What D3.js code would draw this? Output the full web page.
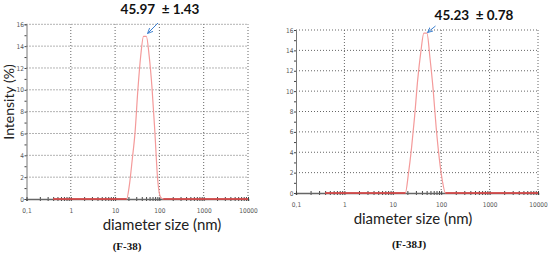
<!DOCTYPE html>
<html><head><meta charset="utf-8">
<script src="https://cdn.jsdelivr.net/npm/d3@7/dist/d3.min.js"></script>
<style>
html,body{margin:0;padding:0;background:#fff;}
svg{display:block;}
</style></head>
<body>
<svg id="chart" width="550" height="253"></svg>
<script>
// ---- data ----
const sizeBins = [0.4, 1, 10, 15.69, 18.17, 21.04, 24.36, 28.21, 32.67, 37.84, 43.82, 50.75, 58.77, 68.06, 78.82, 91.28, 105.7, 122.4, 141.8, 1000, 10000];
const intensityF38  = [0, 0, 0, 0, 0, 1.3, 3.6, 6.1, 10.0, 13.1, 14.9, 14.9, 13.1, 10.2, 6.2, 1.8, 0.2, 0, 0, 0, 0];
const intensityF38J = [0, 0, 0, 0, 0, 1.9, 4.4, 7.5, 11.1, 13.8, 15.7, 15.7, 13.2, 10.2, 6.4, 3.4, 1.2, 0, 0, 0, 0];
const xTickValues = [0.1, 1, 10, 100, 1000, 10000];
const xTickLabels = ["0,1", "1", "10", "100", "1000", "10000"];
const yTickValues = [0, 2, 4, 6, 8, 10, 12, 14, 16];
const titles = ["45.97  \u00b1 1.43", "45.23  \u00b1 0.78"];
const captions = ["(F-38)", "(F-38J)"];
const xAxisTitle = "diameter size (nm)";
const yAxisTitle = "Intensity (%)";

const svg = d3.select("#chart");

function drawPanel(o) {
  const g = svg.append("g");
  const x = d3.scaleLog().domain([0.1, 10000]).range(o.xr);
  const y = d3.scaleLinear().domain([0, 16]).range(o.yr);
  const data = sizeBins.map((s, i) => ({s, v: o.values[i]}));

  // grid (dotted)
  g.append("g").selectAll("line").data(yTickValues.filter(v => v > 0)).join("line")
    .attr("x1", x(0.1)).attr("x2", x(10000))
    .attr("y1", d => y(d)).attr("y2", d => y(d))
    .attr("stroke", "#666").attr("stroke-width", 1).attr("stroke-dasharray", "1,2");
  g.append("g").selectAll("line").data(xTickValues.filter(v => v > 0.1)).join("line")
    .attr("x1", d => x(d)).attr("x2", d => x(d))
    .attr("y1", y(0)).attr("y2", y(16))
    .attr("stroke", "#666").attr("stroke-width", 1).attr("stroke-dasharray", "1,2");

  // y axis
  const yAxis = g.append("g").attr("transform", `translate(${x(0.1)},0)`)
    .call(d3.axisLeft(y).tickValues(d3.range(0, 17, 1)).tickSize(2)
      .tickFormat(d => d % 2 === 0 ? d : ""));
  yAxis.select(".domain").attr("stroke", "#777");
  yAxis.selectAll(".tick line").attr("stroke", "#444");
  yAxis.selectAll("text").attr("font-family", "DejaVu Sans Condensed, sans-serif")
    .attr("font-size", 6.5).attr("fill", "#555").attr("x", -2.5);

  // x axis with log minor ticks
  const minor = [];
  for (let e = -1; e < 4; e++) for (let k = 2; k <= 9; k++) minor.push(k * Math.pow(10, e));
  const xMinor = g.append("g").attr("transform", `translate(0,${y(0)})`)
    .call(d3.axisBottom(x).tickValues(minor).tickSize(2).tickFormat(""));
  xMinor.select(".domain").remove();
  xMinor.selectAll(".tick line").attr("stroke", "#444").attr("y1", -2);
  const xAxis = g.append("g").attr("transform", `translate(0,${y(0)})`)
    .call(d3.axisBottom(x).tickValues(xTickValues).tickSize(2)
      .tickFormat((d, i) => xTickLabels[i]));
  xAxis.select(".domain").attr("stroke", "#666").attr("stroke-width", 1.6);
  xAxis.selectAll(".tick line").attr("stroke", "#444").attr("y1", -2);
  xAxis.selectAll("text").attr("font-family", "DejaVu Sans Condensed, sans-serif")
    .attr("font-size", 6.5).attr("fill", "#555").attr("y", 9);

  // data line
  const line = d3.line().x(d => x(d.s)).y(d => y(d.v)).curve(d3.curveMonotoneX);
  g.append("path").datum(data).attr("d", line)
    .attr("fill", "none").attr("stroke", "#f49a9a").attr("stroke-width", 1.2);
  const base = d3.line().defined(d => d.v === 0).x(d => x(d.s)).y(d => y(d.v));
  g.append("path").datum(data).attr("d", base)
    .attr("fill", "none").attr("stroke", "#d03a3a").attr("stroke-width", 1.3);

  // title + arrow
  g.append("text").attr("x", o.titleX).attr("y", o.titleY).attr("text-anchor", "middle")
    .attr("font-family", "Lato, sans-serif").attr("font-weight", "bold").attr("font-size", 13.5)
    .attr("fill", "#111").attr("xml:space", "preserve").text(o.title);
  g.append("line").attr("x1", o.arrow[0]).attr("y1", o.arrow[1]).attr("x2", o.arrow[2]).attr("y2", o.arrow[3])
    .attr("stroke", "#3b7fd0").attr("stroke-width", 1).attr("marker-end", "url(#arr)");

  // x axis title
  g.append("text").attr("x", o.xTitleX).attr("y", o.xTitleY).attr("text-anchor", "middle")
    .attr("font-family", "Lato, sans-serif").attr("font-size", 15).attr("fill", "#222").text(xAxisTitle);

  // caption
  g.append("text").attr("x", o.capX).attr("y", o.capY).attr("text-anchor", "middle")
    .attr("font-family", "Liberation Serif, serif").attr("font-weight", "bold").attr("font-size", 11)
    .attr("fill", "#111").text(o.caption);

  if (o.yTitle) {
    g.append("text").attr("transform", `translate(${o.yTitleX},${o.yTitleY}) rotate(-90)`)
      .attr("text-anchor", "middle").attr("font-family", "Lato, sans-serif").attr("font-size", 14)
      .attr("fill", "#222").text(yAxisTitle);
  }
}

svg.append("defs").append("marker").attr("id", "arr").attr("viewBox", "0 0 10 10")
  .attr("refX", 9).attr("refY", 5).attr("markerWidth", 6).attr("markerHeight", 6)
  .attr("orient", "auto").append("path").attr("d", "M0,1 L9,5 L0,9").attr("fill", "none")
  .attr("stroke", "#3b7fd0").attr("stroke-width", 1.5);

drawPanel({xr: [26.5, 248], yr: [199, 24.3], values: intensityF38, title: titles[0],
  titleX: 160, titleY: 14, arrow: [158, 23, 147.5, 33.5],
  xTitleX: 162, xTitleY: 230, capX: 127, capY: 250, caption: captions[0],
  yTitle: true, yTitleX: 14, yTitleY: 102});
drawPanel({xr: [296, 538], yr: [193, 30], values: intensityF38J, title: titles[1],
  titleX: 474, titleY: 20, arrow: [435.5, 26, 427.5, 32.5],
  xTitleX: 413, xTitleY: 224, capX: 409, capY: 248, caption: captions[1],
  yTitle: false});
</script>
</body></html>
